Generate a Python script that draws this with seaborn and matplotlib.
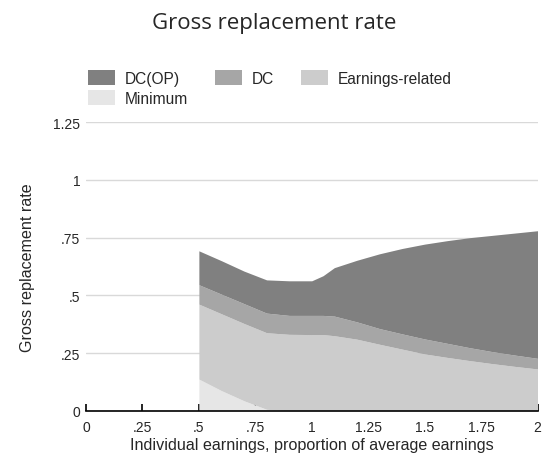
import matplotlib
matplotlib.use("Agg")
import matplotlib.pyplot as plt
import seaborn as sns
import pandas as pd

# ---- data ----
earnings = [0.5, 0.6, 0.7, 0.8, 0.9, 1.0, 1.05, 1.1, 1.2, 1.3, 1.4, 1.5, 1.6, 1.7, 1.8, 1.9, 2.0]
minimum = [0.137, 0.087, 0.043, 0.006, 0, 0, 0, 0, 0, 0, 0, 0, 0, 0, 0, 0, 0]
earnings_related = [0.325, 0.333, 0.335, 0.332, 0.331, 0.330, 0.330, 0.325, 0.310, 0.288,
                    0.267, 0.246, 0.231, 0.217, 0.204, 0.192, 0.181]
dc = [0.084, 0.085, 0.086, 0.085, 0.082, 0.083, 0.083, 0.085, 0.075, 0.068,
      0.066, 0.065, 0.061, 0.056, 0.052, 0.049, 0.046]
dc_op = [0.147, 0.145, 0.141, 0.144, 0.150, 0.150, 0.172, 0.210, 0.267, 0.324,
         0.370, 0.411, 0.445, 0.477, 0.504, 0.529, 0.553]
series_names = ["Minimum", "Earnings-related", "DC", "DC(OP)"]
x_ticks = [0, 0.25, 0.5, 0.75, 1, 1.25, 1.5, 1.75, 2]
x_tick_labels = ["0", ".25", ".5", ".75", "1", "1.25", "1.5", "1.75", "2"]
y_ticks = [0, 0.25, 0.5, 0.75, 1, 1.25]
y_tick_labels = ["0", ".25", ".5", ".75", "1", "1.25"]

df = pd.DataFrame({"x": earnings, "Minimum": minimum, "Earnings-related": earnings_related,
                   "DC": dc, "DC(OP)": dc_op})

sns.set_theme(style="white")
plt.rcParams["font.family"] = ["Liberation Sans", "DejaVu Sans"]

colors = {"Minimum": "#e6e6e6", "Earnings-related": "#cccccc", "DC": "#a6a6a6", "DC(OP)": "#808080"}

fig = plt.figure(figsize=(5.48, 4.60), dpi=100)
ax = fig.add_axes([86 / 548, 1 - 411.7 / 460, 451.5 / 548, (411.7 - 123.3) / 460])

polys = ax.stackplot(df["x"], *[df[n] for n in series_names],
                     colors=[colors[n] for n in series_names], labels=series_names,
                     linewidth=0, zorder=2)

ax.set_xlim(0, 2)
ax.set_ylim(0, 1.25)
ax.set_xticks(x_ticks)
ax.set_xticklabels(x_tick_labels)
ax.set_yticks(y_ticks)
ax.set_yticklabels(y_tick_labels)
ax.yaxis.grid(True, color="#d9d9d9", linewidth=1.0, zorder=0)
ax.set_axisbelow(True)
for s in ["top", "right", "left"]:
    ax.spines[s].set_visible(False)
ax.spines["bottom"].set_color("black")
ax.spines["bottom"].set_linewidth(1.2)
ax.spines["bottom"].set_zorder(3)
ax.tick_params(axis="x", direction="in", length=5, width=1.2, color="black",
               labelsize=10, pad=7, bottom=True)
ax.tick_params(axis="y", length=0, labelsize=10, pad=4)

ax.set_xlabel("Individual earnings, proportion of average earnings", fontsize=11.6, labelpad=2)
ax.set_ylabel("Gross replacement rate", fontsize=11.6, labelpad=13)

fig.text(274 / 548, 1 - 24 / 460, "Gross replacement rate", ha="center", va="center",
         fontsize=16, family=["Open Sans", "DejaVu Sans"])

handles = {lab: h for h, lab in zip(polys, series_names)}
order = ["DC(OP)", "Minimum", "DC", "Earnings-related"]
fig.legend([handles[o] for o in order], order, loc="upper left",
           bbox_to_anchor=(88 / 548, 1 - 71 / 460), ncol=3, frameon=False,
           fontsize=11.2, handlelength=1.75, handleheight=1.15, handletextpad=0.6,
           columnspacing=1.75, labelspacing=0.25, borderpad=0, borderaxespad=0)

fig.savefig("out.png", dpi=100)
